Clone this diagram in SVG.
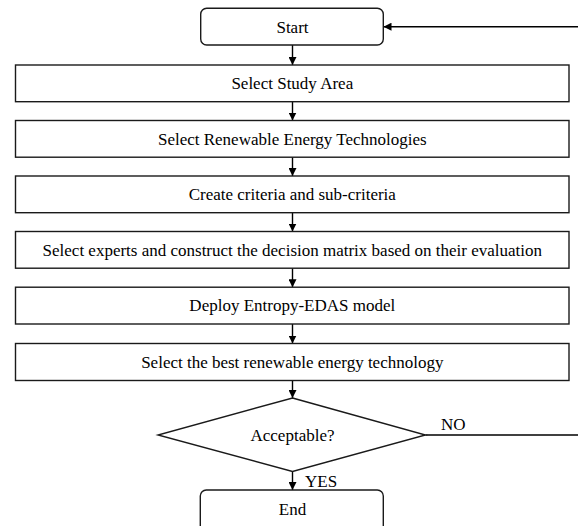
<svg xmlns="http://www.w3.org/2000/svg" width="578" height="526" viewBox="0 0 578 526">
<defs>
<marker id="ah" viewBox="0 0 10 10" refX="10" refY="5" markerWidth="8" markerHeight="8" markerUnits="userSpaceOnUse" orient="auto">
<path d="M0,0 L10,5 L0,10 Z" fill="#000"/>
</marker>
<style>
.shape{fill:#fff;stroke:#1a1a1a;stroke-width:1.4}
.lbl{font-family:"Liberation Serif","Times New Roman",serif;font-size:17px;fill:#000;text-anchor:middle}
.side{font-family:"Liberation Serif","Times New Roman",serif;font-size:17px;fill:#000}
.conn{stroke:#000;stroke-width:1.4;fill:none}
</style>
</defs>
<rect width="578" height="526" fill="#fff"/>
<g id="connectors">
<line class="conn" x1="292.5" y1="45" x2="292.5" y2="65" marker-end="url(#ah)"/>
<line class="conn" x1="292.5" y1="101.7" x2="292.5" y2="120.5" marker-end="url(#ah)"/>
<line class="conn" x1="292.5" y1="157.2" x2="292.5" y2="176" marker-end="url(#ah)"/>
<line class="conn" x1="292.5" y1="212.7" x2="292.5" y2="231.5" marker-end="url(#ah)"/>
<line class="conn" x1="292.5" y1="268.2" x2="292.5" y2="287.2" marker-end="url(#ah)"/>
<line class="conn" x1="292.5" y1="324" x2="292.5" y2="343.5" marker-end="url(#ah)"/>
<line class="conn" x1="292.5" y1="380.5" x2="292.5" y2="398" marker-end="url(#ah)"/>
<line class="conn" x1="292.5" y1="471.5" x2="292.5" y2="490" marker-end="url(#ah)"/>
<line class="conn" x1="425.5" y1="435" x2="578" y2="435"/>
<line class="conn" x1="578" y1="26.7" x2="383.5" y2="26.7" marker-end="url(#ah)"/>
<text class="side" x="441" y="430">NO</text>
<text class="side" x="305" y="487">YES</text>
</g>
<g id="start">
<rect class="shape" x="200.7" y="8.3" width="182.6" height="36.7" rx="6"/>
<text class="lbl" x="292.5" y="32.5">Start</text>
</g>
<g id="n1">
<rect class="shape" x="15.5" y="65" width="553.5" height="36.7"/>
<text class="lbl" x="292.3" y="89">Select Study Area</text>
</g>
<g id="n2">
<rect class="shape" x="15.5" y="120.5" width="553.5" height="36.7"/>
<text class="lbl" x="292.3" y="144.5">Select Renewable Energy Technologies</text>
</g>
<g id="n3">
<rect class="shape" x="15.5" y="176" width="553.5" height="36.7"/>
<text class="lbl" x="292.3" y="200">Create criteria and sub-criteria</text>
</g>
<g id="n4">
<rect class="shape" x="15.5" y="231.5" width="553.5" height="36.7"/>
<text class="lbl" x="292.3" y="255.5">Select experts and construct the decision matrix based on their evaluation</text>
</g>
<g id="n5">
<rect class="shape" x="15.5" y="287.2" width="553.5" height="36.8"/>
<text class="lbl" x="292.3" y="311.2">Deploy Entropy-EDAS model</text>
</g>
<g id="n6">
<rect class="shape" x="15.5" y="343.5" width="553.5" height="37"/>
<text class="lbl" x="292.3" y="367.5">Select the best renewable energy technology</text>
</g>
<g id="decision">
<polygon class="shape" points="292.5,398 425.5,435 292.5,471.5 158,435"/>
<text class="lbl" x="292.5" y="441">Acceptable?</text>
</g>
<g id="end">
<rect class="shape" x="200.3" y="490" width="183" height="42" rx="6"/>
<text class="lbl" x="292.5" y="515">End</text>
</g>
</svg>
